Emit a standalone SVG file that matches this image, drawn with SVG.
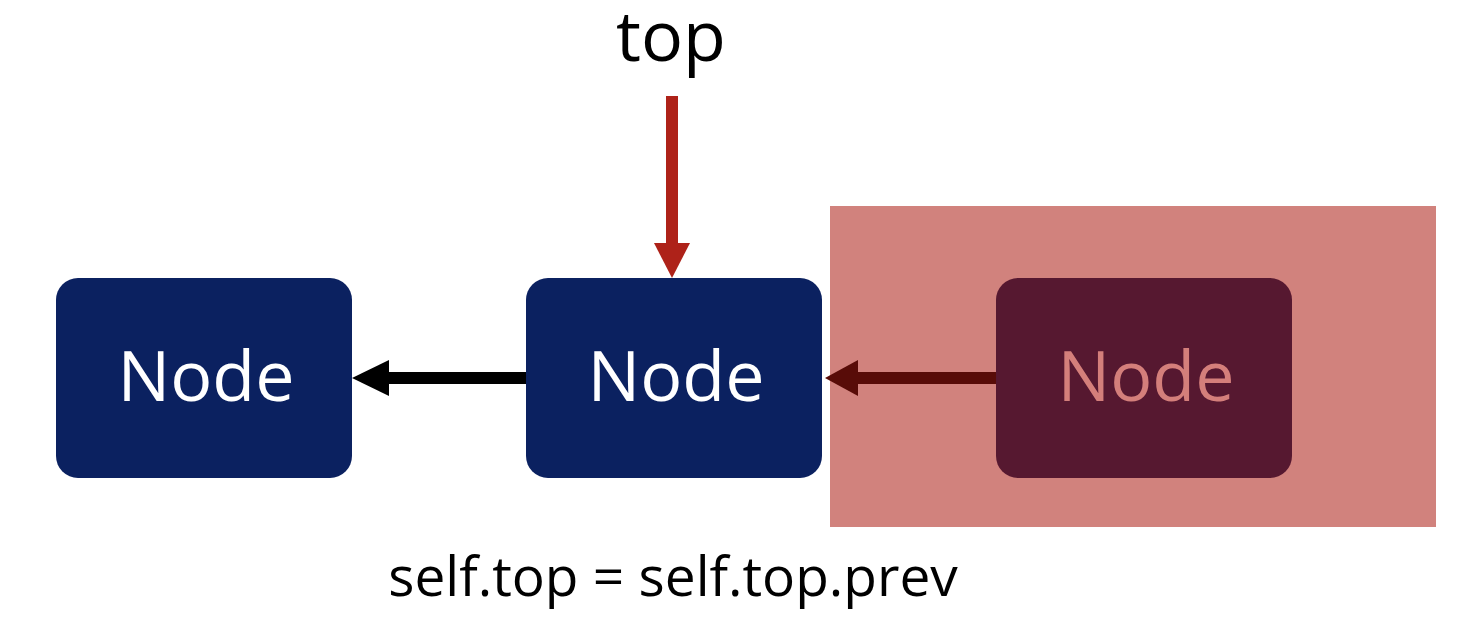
<svg xmlns="http://www.w3.org/2000/svg" width="1480" height="622" viewBox="0 0 1480 622">
<style>
.lbl{font-family:"Open Sans","Noto Sans","Liberation Sans",sans-serif;text-anchor:middle}
.node{fill:#0b2160}
</style>
<rect x="0" y="0" width="1480" height="622" fill="#ffffff"/>
<rect id="highlight" x="830" y="206" width="606" height="321" fill="#d1827d"/>
<g id="node1"><rect class="node" x="56" y="278" width="296" height="200" rx="22"/><text class="lbl" x="206" y="401" font-size="70" fill="#ffffff">Node</text></g>
<g id="node2"><rect class="node" x="526" y="278" width="296" height="200" rx="22"/><text class="lbl" x="676" y="401" font-size="70" fill="#ffffff">Node</text></g>
<g id="node3"><rect x="996" y="278" width="296" height="200" rx="22" fill="#561830"/><text class="lbl" x="1146" y="401" font-size="70" fill="#d47f7b">Node</text></g>
<g id="connectors">
<line x1="526" y1="378" x2="386" y2="378" stroke="#000000" stroke-width="12"/>
<polygon points="352,378 389,360 389,396" fill="#000000"/>
<line x1="996" y1="378" x2="856" y2="378" stroke="#580c08" stroke-width="12"/>
<polygon points="825,378 858,360 858,396" fill="#580c08"/>
<line x1="672" y1="96" x2="672" y2="246" stroke="#ae2219" stroke-width="12"/>
<polygon points="672,278 654,243 690,243" fill="#ae2219"/>
</g>
<g id="labels">
<text class="lbl" x="671" y="61" font-size="70" fill="#000000">top</text>
<text class="lbl" x="673" y="596" font-size="55" fill="#000000">self.top = self.top.prev</text>
</g>
</svg>
